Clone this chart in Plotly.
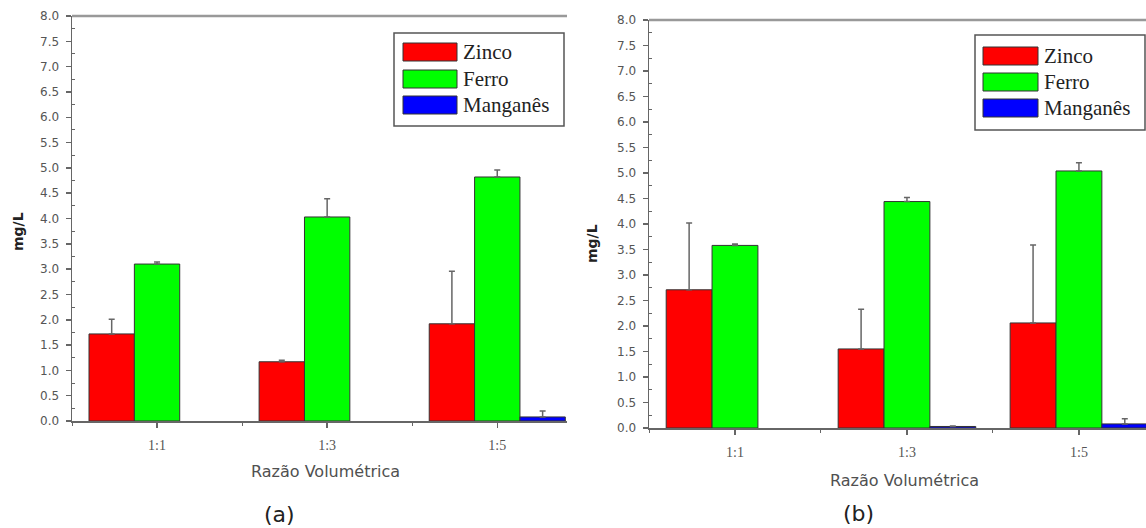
import plotly.graph_objects as go

# ---------------- data ----------------
categories = ["1:1", "1:3", "1:5"]
series_names = ["Zinco", "Ferro", "Manganês"]
series_colors = ["#FF0000", "#00FF00", "#0000FF"]

# panel (a)  (None = no bar visible)
a_zinco = [1.72, 1.17, 1.92]
a_zinco_err = [0.29, 0.03, 1.04]
a_ferro = [3.10, 4.03, 4.82]
a_ferro_err = [0.04, 0.36, 0.14]
a_mn = [None, None, 0.08]
a_mn_err = [None, None, 0.12]

# panel (b)
b_zinco = [2.71, 1.55, 2.06]
b_zinco_err = [1.31, 0.78, 1.53]
b_ferro = [3.58, 4.44, 5.04]
b_ferro_err = [0.03, 0.08, 0.16]
b_mn = [None, 0.03, 0.08]
b_mn_err = [None, 0.01, 0.10]

y_tick_vals = [0.0, 0.5, 1.0, 1.5, 2.0, 2.5, 3.0, 3.5, 4.0, 4.5, 5.0, 5.5, 6.0, 6.5, 7.0, 7.5, 8.0]
x_title = "Razão Volumétrica"
y_title = "mg/L"
panel_labels = ["(a)", "(b)"]

# ---------------- layout helpers ----------------
W, H = 1146, 528
def px(x):
    return x / W
def py(y):
    return 1 - y / H

xpos = list(range(len(categories)))
AX = "#666666"

fig = go.Figure()

panels = [
    ([a_zinco, a_ferro, a_mn], [a_zinco_err, a_ferro_err, a_mn_err], "x", "y"),
    ([b_zinco, b_ferro, b_mn], [b_zinco_err, b_ferro_err, b_mn_err], "x2", "y2"),
]
for vals, errs, xa, ya in panels:
    for name, color, v, e in zip(series_names, series_colors, vals, errs):
        fig.add_trace(go.Bar(
            x=xpos, y=v, name=name, xaxis=xa, yaxis=ya,
            marker=dict(color=color, line=dict(color="#333333", width=1)),
            error_y=dict(type="data", symmetric=False, array=e,
                         arrayminus=[0] * len(e), color="#666666",
                         thickness=1.5, width=3),
            showlegend=False,
        ))

def xaxis_cfg(domain, rng):
    return dict(
        domain=domain, range=rng, showgrid=False, zeroline=False, automargin=False,
        showline=True, linecolor=AX, linewidth=1.5,
        tickmode="array", tickvals=xpos, ticktext=categories,
        ticks="outside", ticklen=5, tickwidth=1.5, tickcolor=AX,
        ticklabelstandoff=6,
        tickfont=dict(family="Liberation Serif", size=14, color="#555555"),
        minor=dict(ticks="outside", ticklen=3, tickwidth=1, tickcolor=AX,
                   tick0=0.5, dtick=1, showgrid=False),
        fixedrange=True,
    )

def yaxis_cfg(domain, anchor):
    return dict(
        domain=domain, range=[0, 8], anchor=anchor, showgrid=False, zeroline=False,
        automargin=False,
        showline=True, linecolor=AX, linewidth=1.5,
        tickmode="array", tickvals=y_tick_vals,
        ticktext=[f"{v:.1f}" for v in y_tick_vals],
        ticks="outside", ticklen=5, tickwidth=1.5, tickcolor=AX,
        ticklabelstandoff=4,
        tickfont=dict(family="DejaVu Sans", size=12, color="#555555"),
        minor=dict(ticks="inside", ticklen=3, tickwidth=1, tickcolor=AX,
                   tick0=0.25, dtick=0.5, showgrid=False),
        fixedrange=True,
    )

fig.update_layout(
    width=W, height=H,
    margin=dict(l=0, r=0, t=0, b=0, autoexpand=False),
    paper_bgcolor="white", plot_bgcolor="white",
    barmode="group", bargap=0.2, bargroupgap=0.0,
    xaxis=dict(**xaxis_cfg([px(72), px(567)], [-0.5, 2.41]), anchor="y"),
    yaxis=yaxis_cfg([py(421), py(16)], "x"),
    xaxis2=dict(**xaxis_cfg([px(649), 1.0], [-0.5, 2.39]), anchor="y2"),
    yaxis2=yaxis_cfg([py(428), py(20)], "x2"),
)

shapes = []
annotations = []

# top frame lines
for xd, yd in [("x domain", "y domain"), ("x2 domain", "y2 domain")]:
    shapes.append(dict(type="line", xref=xd, yref=yd, x0=0, x1=1, y0=1, y1=1,
                       line=dict(color="#999999", width=2.5)))

# axis titles and panel labels
title_pos = [
    dict(yt=(18, 232), xt=(325, 471), lab=(279, 514)),
    dict(yt=(592, 244), xt=(904, 480), lab=(859, 513)),
]
for lbl, p in zip(panel_labels, title_pos):
    annotations.append(dict(x=px(p["yt"][0]), y=py(p["yt"][1]), xref="paper", yref="paper",
                            text=y_title, textangle=-90, showarrow=False,
                            font=dict(family="DejaVu Sans", size=14, color="#222222", weight="bold"),
                            xanchor="center", yanchor="middle"))
    annotations.append(dict(x=px(p["xt"][0]), y=py(p["xt"][1]), xref="paper", yref="paper",
                            text=x_title, showarrow=False,
                            font=dict(family="DejaVu Sans", size=16, color="#505050"),
                            xanchor="center", yanchor="middle"))
    annotations.append(dict(x=px(p["lab"][0]), y=py(p["lab"][1]), xref="paper", yref="paper",
                            text=lbl, showarrow=False,
                            font=dict(family="DejaVu Sans", size=22, color="#222222"),
                            xanchor="center", yanchor="middle"))

# custom legends (wide swatches like the original)
legend_boxes = [
    dict(box=(394, 33, 564, 126), sw_x=(403, 457), rows=(43, 70, 96), text_x=461),
    dict(box=(975, 35, 1145, 130), sw_x=(983, 1038), rows=(47, 73, 99), text_x=1042),
]
for lb in legend_boxes:
    x0, y0, x1, y1 = lb["box"]
    shapes.append(dict(type="rect", xref="paper", yref="paper",
                       x0=px(x0), x1=px(x1), y0=py(y1), y1=py(y0),
                       line=dict(color="#555555", width=1.5), fillcolor="white"))
    for name, color, ry in zip(series_names, series_colors, lb["rows"]):
        shapes.append(dict(type="rect", xref="paper", yref="paper",
                           x0=px(lb["sw_x"][0]), x1=px(lb["sw_x"][1]),
                           y0=py(ry + 18), y1=py(ry),
                           line=dict(color="#333333", width=1), fillcolor=color))
        annotations.append(dict(x=px(lb["text_x"]), y=py(ry + 9), xref="paper", yref="paper",
                                text=name, showarrow=False,
                                font=dict(family="Liberation Serif", size=21, color="#222222"),
                                xanchor="left", yanchor="middle"))

fig.update_layout(shapes=shapes, annotations=annotations)

fig.write_html(
    "out.html",
    config={"displayModeBar": False, "staticPlot": True},
    post_script="document.body.style.margin='0';document.body.style.overflow='hidden';",
)
